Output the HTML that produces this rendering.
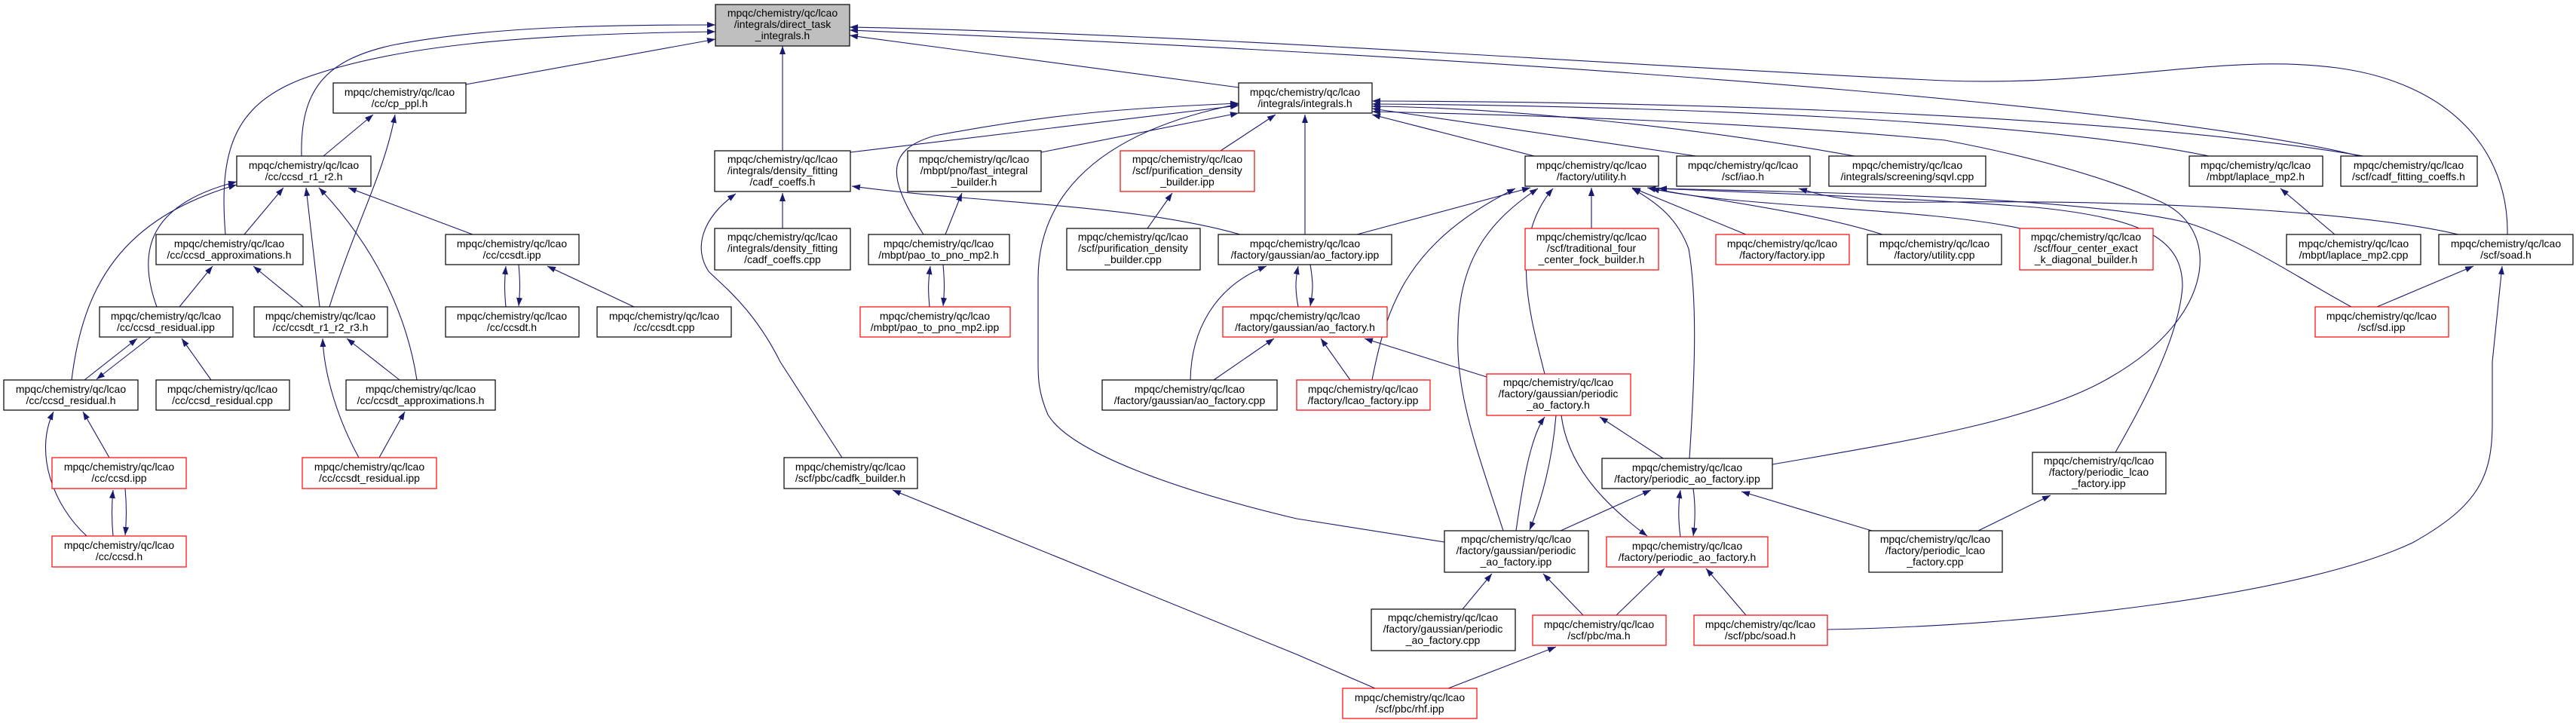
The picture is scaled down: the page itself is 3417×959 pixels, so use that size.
<!DOCTYPE html>
<html><head><meta charset="utf-8"><style>
html,body{margin:0;padding:0;background:#fff;}
svg{display:block;}
text{font-family:"Liberation Sans",sans-serif;font-size:14px;fill:#000;text-anchor:middle;}
.n{fill:#fff;stroke:#000;stroke-width:1.2;}
.r{fill:#fff;stroke:#ff0000;stroke-width:1.2;}
.g{fill:#bfbfbf;stroke:#000;stroke-width:1.2;}
.e{fill:none;stroke:#191970;stroke-width:1.1;marker-end:url(#a);}
</style></head><body>
<svg width="3417" height="959" viewBox="0 0 3417 959" xmlns="http://www.w3.org/2000/svg">
<defs><marker id="a" markerUnits="userSpaceOnUse" markerWidth="12" markerHeight="10" refX="11" refY="4" orient="auto"><path d="M0,0 L11,4 L0,8 z" fill="#191970"/></marker></defs>

<!-- edges -->
<path class="e" d="M618,112 L949,52"/>
<path class="e" d="M400,207 C398,120 430,80 520,60 C650,35 800,33 949,33"/>
<path class="e" d="M299,311 C290,200 310,140 400,105 C520,60 700,45 949,42"/>
<path class="e" d="M1038,200 L1038,61"/>
<path class="e" d="M1643,116 L1127,47"/>
<path class="e" d="M3130,207 C2900,150 2200,85 1127,40"/>
<path class="e" d="M3326,311 C3328,200 3250,110 3100,90 C2950,70 2800,115 2580,107 C2200,90 1600,45 1127,36"/>

<path class="e" d="M1128,202 L1643,140"/>
<path class="e" d="M1381,202 L1643,150"/>
<path class="e" d="M1225,311 C1180,240 1170,200 1240,180 C1400,150 1500,143 1643,137"/>
<path class="e" d="M1619,200 L1692,152"/>
<path class="e" d="M1731,311 L1731,152"/>
<path class="e" d="M1916,719 L1720,688 C1560,650 1420,600 1390,550 C1377,520 1377,500 1377,480 L1377,370 C1377,280 1430,180 1643,138"/>
<path class="e" d="M2035,207 L1820,152"/>
<path class="e" d="M2250,207 L1820,144"/>
<path class="e" d="M2460,207 C2200,160 1950,142 1820,141"/>
<path class="e" d="M2930,207 C2700,160 2200,140 1820,138"/>
<path class="e" d="M3135,207 C2800,150 2200,135 1820,134"/>
<path class="e" d="M2351,616 C2500,590 2700,560 2800,500 C2940,420 2950,300 2860,265 C2780,230 2680,205 2580,186 C2300,160 2000,152 1820,148"/>

<path class="e" d="M1800,311 L2030,249"/>
<path class="e" d="M2111,303 L2111,249"/>
<path class="e" d="M2316,311 L2165,249"/>
<path class="e" d="M2497,311 C2400,280 2250,262 2185,249"/>
<path class="e" d="M2680,303 C2550,275 2300,275 2190,250"/>
<path class="e" d="M1820,504 C1840,400 1870,320 2010,250"/>
<path class="e" d="M2049,496 C2030,420 2000,320 2060,250"/>
<path class="e" d="M1994,704 C1960,600 1930,520 1934,440 C1935,340 1980,290 2040,250"/>
<path class="e" d="M2241,608 C2248,500 2252,400 2240,330 C2225,290 2200,270 2165,250"/>
<path class="e" d="M2806,600 C2840,540 2890,450 2895,380 C2895,320 2850,290 2700,275 C2500,260 2300,255 2200,250"/>
<path class="e" d="M3119,407 C3050,370 2980,320 2900,295 C2750,260 2400,255 2200,250"/>
<path class="e" d="M3261,311 C3150,285 2900,265 2580,268 C2450,270 2420,260 2386,250"/>

<path class="e" d="M3153,407 L3281,353"/>
<path class="e" d="M2424,835 C2700,830 3050,790 3200,720 C3290,670 3306,630 3306,560 L3306,480 L3319,353"/>
<path class="e" d="M3097,311 L3025,250"/>

<path class="e" d="M1722,407 C1718,385 1718,372 1722,353"/>
<path class="e" d="M1738,351 C1742,375 1742,385 1738,406"/>
<path class="e" d="M1645,311 C1500,270 1300,270 1130,247"/>
<path class="e" d="M1579,504 C1580,440 1610,380 1680,353"/>
<path class="e" d="M1610,504 L1690,449"/>
<path class="e" d="M1791,504 L1752,449"/>
<path class="e" d="M1972,500 L1810,449"/>
<path class="e" d="M1233,407 C1231,385 1231,375 1234,353"/>
<path class="e" d="M1251,351 C1253,375 1253,385 1251,406"/>
<path class="e" d="M1254,311 L1276,256"/>
<path class="e" d="M1522,303 L1555,256"/>
<path class="e" d="M1038,303 L1038,256"/>
<path class="e" d="M1117,607 L1035,480 C1000,410 960,380 940,360 C920,330 930,290 976,257"/>
<path class="e" d="M1824,913 L1720,868 L1184,650"/>

<path class="e" d="M2011,704 C2020,640 2030,580 2049,553"/>
<path class="e" d="M2064,551 C2060,600 2050,650 2029,703"/>
<path class="e" d="M2071,551 C2080,620 2130,670 2185,711"/>
<path class="e" d="M2206,608 L2122,553"/>
<path class="e" d="M2070,704 L2190,650"/>
<path class="e" d="M2229,712 C2226,690 2226,670 2229,650"/>
<path class="e" d="M2246,648 C2249,670 2249,690 2246,711"/>
<path class="e" d="M2483,704 L2310,652"/>
<path class="e" d="M2624,704 L2720,657"/>
<path class="e" d="M1940,808 L1979,761"/>
<path class="e" d="M2100,816 L2047,761"/>
<path class="e" d="M2144,816 L2208,754"/>
<path class="e" d="M2316,816 L2263,754"/>
<path class="e" d="M1921,913 L2064,858"/>

<path class="e" d="M429,207 L495,152"/>
<path class="e" d="M437,407 C470,300 510,230 524,152"/>
<path class="e" d="M324,311 L376,249"/>
<path class="e" d="M424,407 L406,249"/>
<path class="e" d="M553,504 C540,420 500,330 423,249"/>
<path class="e" d="M627,311 L462,249"/>
<path class="e" d="M208,407 C180,330 200,270 314,241"/>
<path class="e" d="M95,504 C110,380 160,290 314,245"/>
<path class="e" d="M238,407 L282,353"/>
<path class="e" d="M402,407 L336,353"/>
<path class="e" d="M671,407 C669,385 669,375 671,353"/>
<path class="e" d="M688,351 C690,375 690,385 688,406"/>
<path class="e" d="M841,407 L726,353"/>
<path class="e" d="M530,504 L460,449"/>
<path class="e" d="M476,607 C450,560 430,500 428,449"/>
<path class="e" d="M503,607 L537,546"/>
<path class="e" d="M112,504 L182,449"/>
<path class="e" d="M200,447 L128,503"/>
<path class="e" d="M280,504 L241,449"/>
<path class="e" d="M145,607 L110,546"/>
<path class="e" d="M115,711 C70,670 45,600 71,546"/>
<path class="e" d="M150,711 C148,690 148,670 150,650"/>
<path class="e" d="M166,648 C168,670 168,690 166,710"/>

<!-- nodes -->
<rect class="g" x="949" y="6" width="178" height="55"/><text x="1038" y="22">mpqc/chemistry/qc/lcao</text><text x="1038" y="37">/integrals/direct_task</text><text x="1038" y="52">_integrals.h</text>
<rect class="n" x="442" y="110" width="176" height="40"/><text x="530" y="127">mpqc/chemistry/qc/lcao</text><text x="530" y="142">/cc/cp_ppl.h</text>
<rect class="n" x="1643" y="110" width="177" height="40"/><text x="1731" y="127">mpqc/chemistry/qc/lcao</text><text x="1731" y="142">/integrals/integrals.h</text>
<rect class="n" x="314" y="207" width="178" height="40"/><text x="403" y="224">mpqc/chemistry/qc/lcao</text><text x="403" y="239">/cc/ccsd_r1_r2.h</text>
<rect class="n" x="948" y="200" width="180" height="54"/><text x="1038" y="216">mpqc/chemistry/qc/lcao</text><text x="1038" y="231">/integrals/density_fitting</text><text x="1038" y="246">/cadf_coeffs.h</text>
<rect class="n" x="1204" y="200" width="177" height="54"/><text x="1292" y="216">mpqc/chemistry/qc/lcao</text><text x="1292" y="231">/mbpt/pno/fast_integral</text><text x="1292" y="246">_builder.h</text>
<rect class="r" x="1486" y="200" width="178" height="54"/><text x="1575" y="216">mpqc/chemistry/qc/lcao</text><text x="1575" y="231">/scf/purification_density</text><text x="1575" y="246">_builder.ipp</text>
<rect class="n" x="2023" y="207" width="177" height="40"/><text x="2111" y="224">mpqc/chemistry/qc/lcao</text><text x="2111" y="239">/factory/utility.h</text>
<rect class="n" x="2224" y="207" width="177" height="40"/><text x="2312" y="224">mpqc/chemistry/qc/lcao</text><text x="2312" y="239">/scf/iao.h</text>
<rect class="n" x="2426" y="207" width="208" height="40"/><text x="2530" y="224">mpqc/chemistry/qc/lcao</text><text x="2530" y="239">/integrals/screening/sqvl.cpp</text>
<rect class="n" x="2904" y="207" width="177" height="40"/><text x="2992" y="224">mpqc/chemistry/qc/lcao</text><text x="2992" y="239">/mbpt/laplace_mp2.h</text>
<rect class="n" x="3105" y="207" width="181" height="40"/><text x="3195" y="224">mpqc/chemistry/qc/lcao</text><text x="3195" y="239">/scf/cadf_fitting_coeffs.h</text>

<rect class="n" x="207" y="311" width="195" height="40"/><text x="304" y="328">mpqc/chemistry/qc/lcao</text><text x="304" y="343">/cc/ccsd_approximations.h</text>
<rect class="n" x="591" y="311" width="177" height="40"/><text x="679" y="328">mpqc/chemistry/qc/lcao</text><text x="679" y="343">/cc/ccsdt.ipp</text>
<rect class="n" x="948" y="303" width="180" height="55"/><text x="1038" y="319">mpqc/chemistry/qc/lcao</text><text x="1038" y="334">/integrals/density_fitting</text><text x="1038" y="349">/cadf_coeffs.cpp</text>
<rect class="n" x="1152" y="311" width="187" height="40"/><text x="1245" y="328">mpqc/chemistry/qc/lcao</text><text x="1245" y="343">/mbpt/pao_to_pno_mp2.h</text>
<rect class="n" x="1415" y="303" width="177" height="55"/><text x="1503" y="319">mpqc/chemistry/qc/lcao</text><text x="1503" y="334">/scf/purification_density</text><text x="1503" y="349">_builder.cpp</text>
<rect class="n" x="1616" y="311" width="230" height="40"/><text x="1731" y="328">mpqc/chemistry/qc/lcao</text><text x="1731" y="343">/factory/gaussian/ao_factory.ipp</text>
<rect class="r" x="2023" y="303" width="177" height="55"/><text x="2111" y="319">mpqc/chemistry/qc/lcao</text><text x="2111" y="334">/scf/traditional_four</text><text x="2111" y="349">_center_fock_builder.h</text>
<rect class="r" x="2276" y="311" width="177" height="40"/><text x="2364" y="328">mpqc/chemistry/qc/lcao</text><text x="2364" y="343">/factory/factory.ipp</text>
<rect class="n" x="2477" y="311" width="178" height="40"/><text x="2566" y="328">mpqc/chemistry/qc/lcao</text><text x="2566" y="343">/factory/utility.cpp</text>
<rect class="r" x="2679" y="303" width="177" height="55"/><text x="2767" y="319">mpqc/chemistry/qc/lcao</text><text x="2767" y="334">/scf/four_center_exact</text><text x="2767" y="349">_k_diagonal_builder.h</text>
<rect class="n" x="3033" y="311" width="178" height="40"/><text x="3122" y="328">mpqc/chemistry/qc/lcao</text><text x="3122" y="343">/mbpt/laplace_mp2.cpp</text>
<rect class="n" x="3235" y="311" width="178" height="40"/><text x="3324" y="328">mpqc/chemistry/qc/lcao</text><text x="3324" y="343">/scf/soad.h</text>

<rect class="n" x="132" y="407" width="177" height="40"/><text x="220" y="424">mpqc/chemistry/qc/lcao</text><text x="220" y="439">/cc/ccsd_residual.ipp</text>
<rect class="n" x="337" y="407" width="177" height="40"/><text x="425" y="424">mpqc/chemistry/qc/lcao</text><text x="425" y="439">/cc/ccsdt_r1_r2_r3.h</text>
<rect class="n" x="591" y="407" width="177" height="40"/><text x="679" y="424">mpqc/chemistry/qc/lcao</text><text x="679" y="439">/cc/ccsdt.h</text>
<rect class="n" x="792" y="407" width="178" height="40"/><text x="881" y="424">mpqc/chemistry/qc/lcao</text><text x="881" y="439">/cc/ccsdt.cpp</text>
<rect class="r" x="1141" y="407" width="199" height="40"/><text x="1240" y="424">mpqc/chemistry/qc/lcao</text><text x="1240" y="439">/mbpt/pao_to_pno_mp2.ipp</text>
<rect class="r" x="1622" y="407" width="218" height="40"/><text x="1731" y="424">mpqc/chemistry/qc/lcao</text><text x="1731" y="439">/factory/gaussian/ao_factory.h</text>
<rect class="r" x="3071" y="407" width="177" height="40"/><text x="3159" y="424">mpqc/chemistry/qc/lcao</text><text x="3159" y="439">/scf/sd.ipp</text>

<rect class="n" x="5" y="504" width="178" height="40"/><text x="94" y="521">mpqc/chemistry/qc/lcao</text><text x="94" y="536">/cc/ccsd_residual.h</text>
<rect class="n" x="207" y="504" width="177" height="40"/><text x="295" y="521">mpqc/chemistry/qc/lcao</text><text x="295" y="536">/cc/ccsd_residual.cpp</text>
<rect class="n" x="459" y="504" width="198" height="40"/><text x="558" y="521">mpqc/chemistry/qc/lcao</text><text x="558" y="536">/cc/ccsdt_approximations.h</text>
<rect class="n" x="1462" y="504" width="232" height="40"/><text x="1578" y="521">mpqc/chemistry/qc/lcao</text><text x="1578" y="536">/factory/gaussian/ao_factory.cpp</text>
<rect class="r" x="1720" y="504" width="177" height="40"/><text x="1808" y="521">mpqc/chemistry/qc/lcao</text><text x="1808" y="536">/factory/lcao_factory.ipp</text>
<rect class="r" x="1972" y="496" width="191" height="55"/><text x="2067" y="512">mpqc/chemistry/qc/lcao</text><text x="2067" y="527">/factory/gaussian/periodic</text><text x="2067" y="542">_ao_factory.h</text>

<rect class="r" x="69" y="607" width="178" height="41"/><text x="158" y="624">mpqc/chemistry/qc/lcao</text><text x="158" y="639">/cc/ccsd.ipp</text>
<rect class="r" x="401" y="607" width="178" height="41"/><text x="490" y="624">mpqc/chemistry/qc/lcao</text><text x="490" y="639">/cc/ccsdt_residual.ipp</text>
<rect class="n" x="1040" y="607" width="177" height="41"/><text x="1128" y="624">mpqc/chemistry/qc/lcao</text><text x="1128" y="639">/scf/pbc/cadfk_builder.h</text>
<rect class="n" x="2125" y="608" width="226" height="40"/><text x="2238" y="625">mpqc/chemistry/qc/lcao</text><text x="2238" y="640">/factory/periodic_ao_factory.ipp</text>
<rect class="n" x="2696" y="600" width="177" height="55"/><text x="2784" y="616">mpqc/chemistry/qc/lcao</text><text x="2784" y="631">/factory/periodic_lcao</text><text x="2784" y="646">_factory.ipp</text>

<rect class="r" x="69" y="711" width="178" height="41"/><text x="158" y="728">mpqc/chemistry/qc/lcao</text><text x="158" y="743">/cc/ccsd.h</text>
<rect class="n" x="1916" y="704" width="191" height="55"/><text x="2011" y="720">mpqc/chemistry/qc/lcao</text><text x="2011" y="735">/factory/gaussian/periodic</text><text x="2011" y="750">_ao_factory.ipp</text>
<rect class="r" x="2131" y="712" width="214" height="40"/><text x="2238" y="729">mpqc/chemistry/qc/lcao</text><text x="2238" y="744">/factory/periodic_ao_factory.h</text>
<rect class="n" x="2479" y="704" width="177" height="55"/><text x="2567" y="720">mpqc/chemistry/qc/lcao</text><text x="2567" y="735">/factory/periodic_lcao</text><text x="2567" y="750">_factory.cpp</text>

<rect class="n" x="1819" y="808" width="191" height="55"/><text x="1914" y="824">mpqc/chemistry/qc/lcao</text><text x="1914" y="839">/factory/gaussian/periodic</text><text x="1914" y="854">_ao_factory.cpp</text>
<rect class="r" x="2033" y="816" width="177" height="40"/><text x="2121" y="833">mpqc/chemistry/qc/lcao</text><text x="2121" y="848">/scf/pbc/ma.h</text>
<rect class="r" x="2247" y="816" width="177" height="40"/><text x="2335" y="833">mpqc/chemistry/qc/lcao</text><text x="2335" y="848">/scf/pbc/soad.h</text>
<rect class="r" x="1781" y="913" width="178" height="40"/><text x="1870" y="930">mpqc/chemistry/qc/lcao</text><text x="1870" y="945">/scf/pbc/rhf.ipp</text>
</svg>
</body></html>
